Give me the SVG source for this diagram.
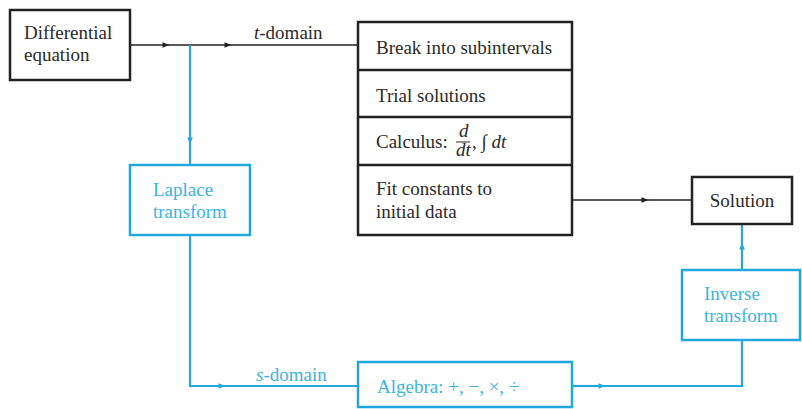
<svg xmlns="http://www.w3.org/2000/svg" width="802" height="409" viewBox="0 0 802 409">
<defs>
<style>
.bk{fill:#fff;stroke:#222;stroke-width:2.5}
.bl{fill:#fff;stroke:#23a8dd;stroke-width:2.5}
.ln{fill:none;stroke:#222;stroke-width:1.3}
.lb{fill:none;stroke:#23a8dd;stroke-width:2.2}
.t{font-family:"Liberation Serif","Times New Roman","DejaVu Serif",serif;font-size:19px;fill:#2a2a2a}
.tb{font-family:"Liberation Serif","Times New Roman","DejaVu Serif",serif;font-size:19px;fill:#3db3e2}
.i{font-style:italic}
</style>
<marker id="ak" viewBox="0 0 10 10" refX="5" refY="5" markerWidth="9" markerHeight="7" orient="auto" markerUnits="userSpaceOnUse"><path d="M0,1 L10,5 L0,9 z" fill="#222"/></marker>
<marker id="ab" viewBox="0 0 10 10" refX="5" refY="5" markerWidth="9" markerHeight="7" orient="auto" markerUnits="userSpaceOnUse"><path d="M0,1 L10,5 L0,9 z" fill="#23a8dd"/></marker>
</defs>
<rect width="802" height="409" fill="#fff"/>
<g id="connectors">
<path class="ln" d="M130,45 L166,45" marker-end="url(#ak)"/>
<path class="ln" d="M166,45 L228,45" marker-end="url(#ak)"/>
<path class="ln" d="M228,45 L358,45"/>
<path class="lb" d="M190,45 L190,141" marker-end="url(#ab)"/>
<path class="lb" d="M190,141 L190,165"/>
<path class="ln" d="M572,200 L645,200" marker-end="url(#ak)"/>
<path class="ln" d="M645,200 L692,200"/>
<path class="lb" d="M190,235 L190,386 L222,386" marker-end="url(#ab)"/>
<path class="lb" d="M222,386 L358,386"/>
<path class="lb" d="M572,386 L602,386" marker-end="url(#ab)"/>
<path class="lb" d="M602,386 L742,386 L742,340"/>
<path class="lb" d="M742,270 L742,246" marker-end="url(#ab)"/>
<path class="lb" d="M742,246 L742,224"/>
<text class="t" x="254" y="39"><tspan class="i">t</tspan>-domain</text>
<text class="tb" x="256" y="381"><tspan class="i">s</tspan>-domain</text>
</g>
<g id="diffeq">
<rect class="bk" x="10" y="10" width="120" height="70"/>
<text class="t" x="24" y="39">Differential</text>
<text class="t" x="24" y="61">equation</text>
</g>
<g id="laplace">
<rect class="bl" x="130" y="165" width="120" height="70"/>
<text class="tb" x="153" y="196">Laplace</text>
<text class="tb" x="153" y="218">transform</text>
</g>
<g id="tdomain-steps">
<rect class="bk" x="358" y="22" width="214" height="213"/>
<line x1="358" y1="70" x2="572" y2="70" stroke="#222" stroke-width="2.5"/>
<line x1="358" y1="117" x2="572" y2="117" stroke="#222" stroke-width="2.5"/>
<line x1="358" y1="165" x2="572" y2="165" stroke="#222" stroke-width="2.5"/>
<text class="t" x="376" y="148">Calculus:</text>
<text class="t" x="376" y="54">Break into subintervals</text>
<text class="t" x="376" y="102">Trial solutions</text>
<text class="t i" x="459" y="137" font-size="12">d</text>
<line x1="456" y1="142" x2="470" y2="142" stroke="#2a2a2a" stroke-width="1"/>
<text class="t i" x="456" y="156" font-size="12">dt</text>
<text class="t" x="472" y="148">, ∫ <tspan class="i">dt</tspan></text>
<text class="t" x="376" y="195">Fit constants to</text>
<text class="t" x="376" y="218">initial data</text>
</g>
<g id="solution">
<rect class="bk" x="692" y="177" width="100" height="47"/>
<text class="t" x="742" y="207" text-anchor="middle">Solution</text>
</g>
<g id="inverse">
<rect class="bl" x="682" y="270" width="118" height="70"/>
<text class="tb" x="704" y="300">Inverse</text>
<text class="tb" x="704" y="322">transform</text>
</g>
<g id="algebra">
<rect class="bl" x="358" y="362" width="214" height="45"/>
<text class="tb" x="377" y="393">Algebra: +, −, ×, ÷</text>
</g>
</svg>
